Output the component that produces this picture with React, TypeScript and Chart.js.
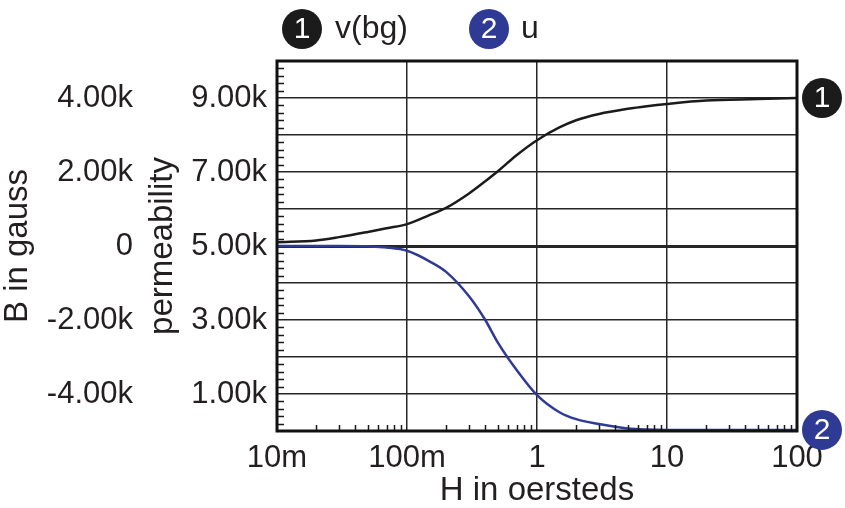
import React, { useEffect, useRef } from 'react';
import { Chart, registerables } from 'chart.js';

Chart.register(...registerables);

// H in oersteds (log axis)
const hValues = [0.01, 0.02, 0.03, 0.05, 0.07, 0.1, 0.15, 0.2, 0.3, 0.4, 0.5, 0.7, 1, 1.5, 2, 3, 5, 7, 10, 20, 50, 100];
// v(bg) : B in gauss
const bGauss = [100, 150, 240, 380, 480, 590, 840, 1030, 1420, 1750, 2020, 2460, 2860, 3210, 3400, 3570, 3710, 3780, 3840, 3930, 3970, 4000];
// u : permeability
const permeability = [5000, 5000, 5000, 4990, 4960, 4870, 4580, 4300, 3640, 3000, 2390, 1640, 970, 500, 320, 190, 70, 40, 30, 30, 30, 30];

const xTickValues = [0.01, 0.1, 1, 10, 100];
const xTickLabels = ['10m', '100m', '1', '10', '100'];
const bTickValues = [-4000, -2000, 0, 2000, 4000];
const bTickLabels = ['-4.00k', '-2.00k', '0', '2.00k', '4.00k'];
const permGridValues = [0, 1000, 2000, 3000, 4000, 5000, 6000, 7000, 8000, 9000, 10000];
const permTickValues = [1000, 3000, 5000, 7000, 9000];
const permTickLabels = ['1.00k', '3.00k', '5.00k', '7.00k', '9.00k'];

const seriesNames = ['v(bg)', 'u'];
const seriesColors = ['#1b1b1b', '#2E3A94'];

const FONT = 'Liberation Sans, Arial, Helvetica, sans-serif';
const TEXT = '#231f20';

function findLabel(values: number[], labels: string[], v: number) {
  for (let i = 0; i < values.length; i++) {
    if (Math.abs(values[i] - v) < 1e-9 * Math.max(1, Math.abs(v))) return labels[i];
  }
  return '';
}

const decor = {
  id: 'decor',
  afterDraw(chart: any) {
    const { ctx, chartArea, scales } = chart;
    const { left, right, top, bottom } = chartArea;
    const xs = scales.x;
    const yB = scales.yB;
    const yP = scales.yP;
    ctx.save();
    // minor ticks left
    ctx.strokeStyle = '#1a1a1a';
    ctx.lineWidth = 1.5;
    ctx.beginPath();
    for (let v = 0; v <= 10000; v += 200) {
      if (v % 1000 === 0) continue;
      const y = Math.round(yP.getPixelForValue(v)) + 0.5;
      ctx.moveTo(left, y);
      ctx.lineTo(left + 7, y);
    }
    // minor ticks bottom (log)
    for (let d = 0; d < xTickValues.length - 1; d++) {
      for (let m = 2; m <= 9; m++) {
        const x = Math.round(xs.getPixelForValue(xTickValues[d] * m)) + 0.5;
        ctx.moveTo(x, bottom - 6);
        ctx.lineTo(x, bottom);
      }
    }
    ctx.stroke();
    // border
    ctx.strokeStyle = '#111';
    ctx.lineWidth = 3;
    ctx.strokeRect(left, top, right - left, bottom - top);

    const marker = (cx: number, cy: number, color: string, n: string) => {
      ctx.beginPath();
      ctx.fillStyle = color;
      ctx.arc(cx, cy, 20, 0, Math.PI * 2);
      ctx.fill();
      ctx.fillStyle = '#fff';
      ctx.font = `30px ${FONT}`;
      ctx.textAlign = 'center';
      ctx.textBaseline = 'middle';
      ctx.fillText(n, cx, cy + 1);
    };
    // right end markers
    const last = hValues.length - 1;
    marker(right + 25, yB.getPixelForValue(bGauss[last]), seriesColors[0], '1');
    marker(right + 25, yP.getPixelForValue(permeability[last]), seriesColors[1], '2');

    // legend on top
    const ly = 29;
    marker(left + 25, ly, seriesColors[0], '1');
    marker(left + 212, ly, seriesColors[1], '2');
    ctx.fillStyle = TEXT;
    ctx.font = `32px ${FONT}`;
    ctx.textAlign = 'left';
    ctx.textBaseline = 'middle';
    ctx.fillText(seriesNames[0], left + 58, ly);
    ctx.fillText(seriesNames[1], left + 244, ly);
    ctx.restore();
  },
};

export default function App() {
  const ref = useRef<HTMLCanvasElement | null>(null);
  useEffect(() => {
    if (!ref.current) return;
    const chart = new Chart(ref.current, {
      type: 'scatter',
      data: {
        datasets: [
          {
            label: seriesNames[0],
            data: hValues.map((h, i) => ({ x: h, y: bGauss[i] })),
            yAxisID: 'yB',
            borderColor: seriesColors[0],
            backgroundColor: seriesColors[0],
            borderWidth: 2.5,
            showLine: true,
            pointRadius: 0,
            cubicInterpolationMode: 'monotone',
          },
          {
            label: seriesNames[1],
            data: hValues.map((h, i) => ({ x: h, y: permeability[i] })),
            yAxisID: 'yP',
            borderColor: seriesColors[1],
            backgroundColor: seriesColors[1],
            borderWidth: 2.5,
            showLine: true,
            pointRadius: 0,
            cubicInterpolationMode: 'monotone',
          },
        ],
      },
      options: {
        animation: false,
        responsive: false,
        maintainAspectRatio: false,
        layout: { padding: { top: 61, right: 48, left: 0, bottom: 0 } },
        plugins: { legend: { display: false }, tooltip: { enabled: false } },
        scales: {
          x: {
            type: 'logarithmic',
            position: 'bottom',
            min: 0.01,
            max: 100,
            afterBuildTicks: (s: any) => {
              s.ticks = xTickValues.map((v) => ({ value: v }));
            },
            afterFit: (s: any) => {
              s.height = 77;
            },
            ticks: {
              autoSkip: false,
              maxRotation: 0,
              minRotation: 0,
              padding: 12,
              color: TEXT,
              font: { family: FONT, size: 31, lineHeight: 1 },
              callback: (v: any) => findLabel(xTickValues, xTickLabels, Number(v)),
            },
            grid: { color: '#262626', lineWidth: 1.5, drawTicks: false },
            border: { display: false },
            title: {
              display: true,
              text: 'H in oersteds',
              color: TEXT,
              font: { family: FONT, size: 33, lineHeight: 1 },
              padding: { top: 0, bottom: 1 },
            },
          },
          yB: {
            axis: 'y',
            type: 'linear',
            position: 'left',
            weight: 1,
            min: -5000,
            max: 5000,
            afterBuildTicks: (s: any) => {
              s.ticks = bTickValues.map((v) => ({ value: v }));
            },
            afterFit: (s: any) => {
              s.width = 140;
            },
            ticks: {
              autoSkip: false,
              padding: 7,
              color: TEXT,
              font: { family: FONT, size: 31, lineHeight: 1 },
              callback: (v: any) => findLabel(bTickValues, bTickLabels, Number(v)),
            },
            grid: { display: false, drawTicks: false },
            border: { display: false },
            title: {
              display: true,
              text: 'B in gauss',
              color: TEXT,
              font: { family: FONT, size: 33, lineHeight: 1 },
              padding: { top: 1, bottom: 0 },
            },
          },
          yP: {
            axis: 'y',
            type: 'linear',
            position: 'left',
            weight: 0,
            min: 0,
            max: 10000,
            afterBuildTicks: (s: any) => {
              s.ticks = permGridValues.map((v) => ({ value: v }));
            },
            afterFit: (s: any) => {
              s.width = 137;
            },
            ticks: {
              autoSkip: false,
              padding: 10,
              color: TEXT,
              font: { family: FONT, size: 31, lineHeight: 1 },
              callback: (v: any) => findLabel(permTickValues, permTickLabels, Number(v)),
            },
            grid: {
              color: '#262626',
              drawTicks: false,
              lineWidth: (c: any) => (c.tick && c.tick.value === 5000 ? 3 : 1.5),
            },
            border: { display: false },
            title: {
              display: true,
              text: 'permeability',
              color: TEXT,
              font: { family: FONT, size: 33, lineHeight: 1 },
              padding: { top: 6, bottom: 0 },
            },
          },
        },
      } as any,
      plugins: [decor],
    });
    return () => chart.destroy();
  }, []);
  return (
    <div style={{ position: 'fixed', left: 0, top: 0, width: 845, height: 508, background: '#fff' }}>
      <canvas ref={ref} width={845} height={508} style={{ display: 'block' }} />
    </div>
  );
}
